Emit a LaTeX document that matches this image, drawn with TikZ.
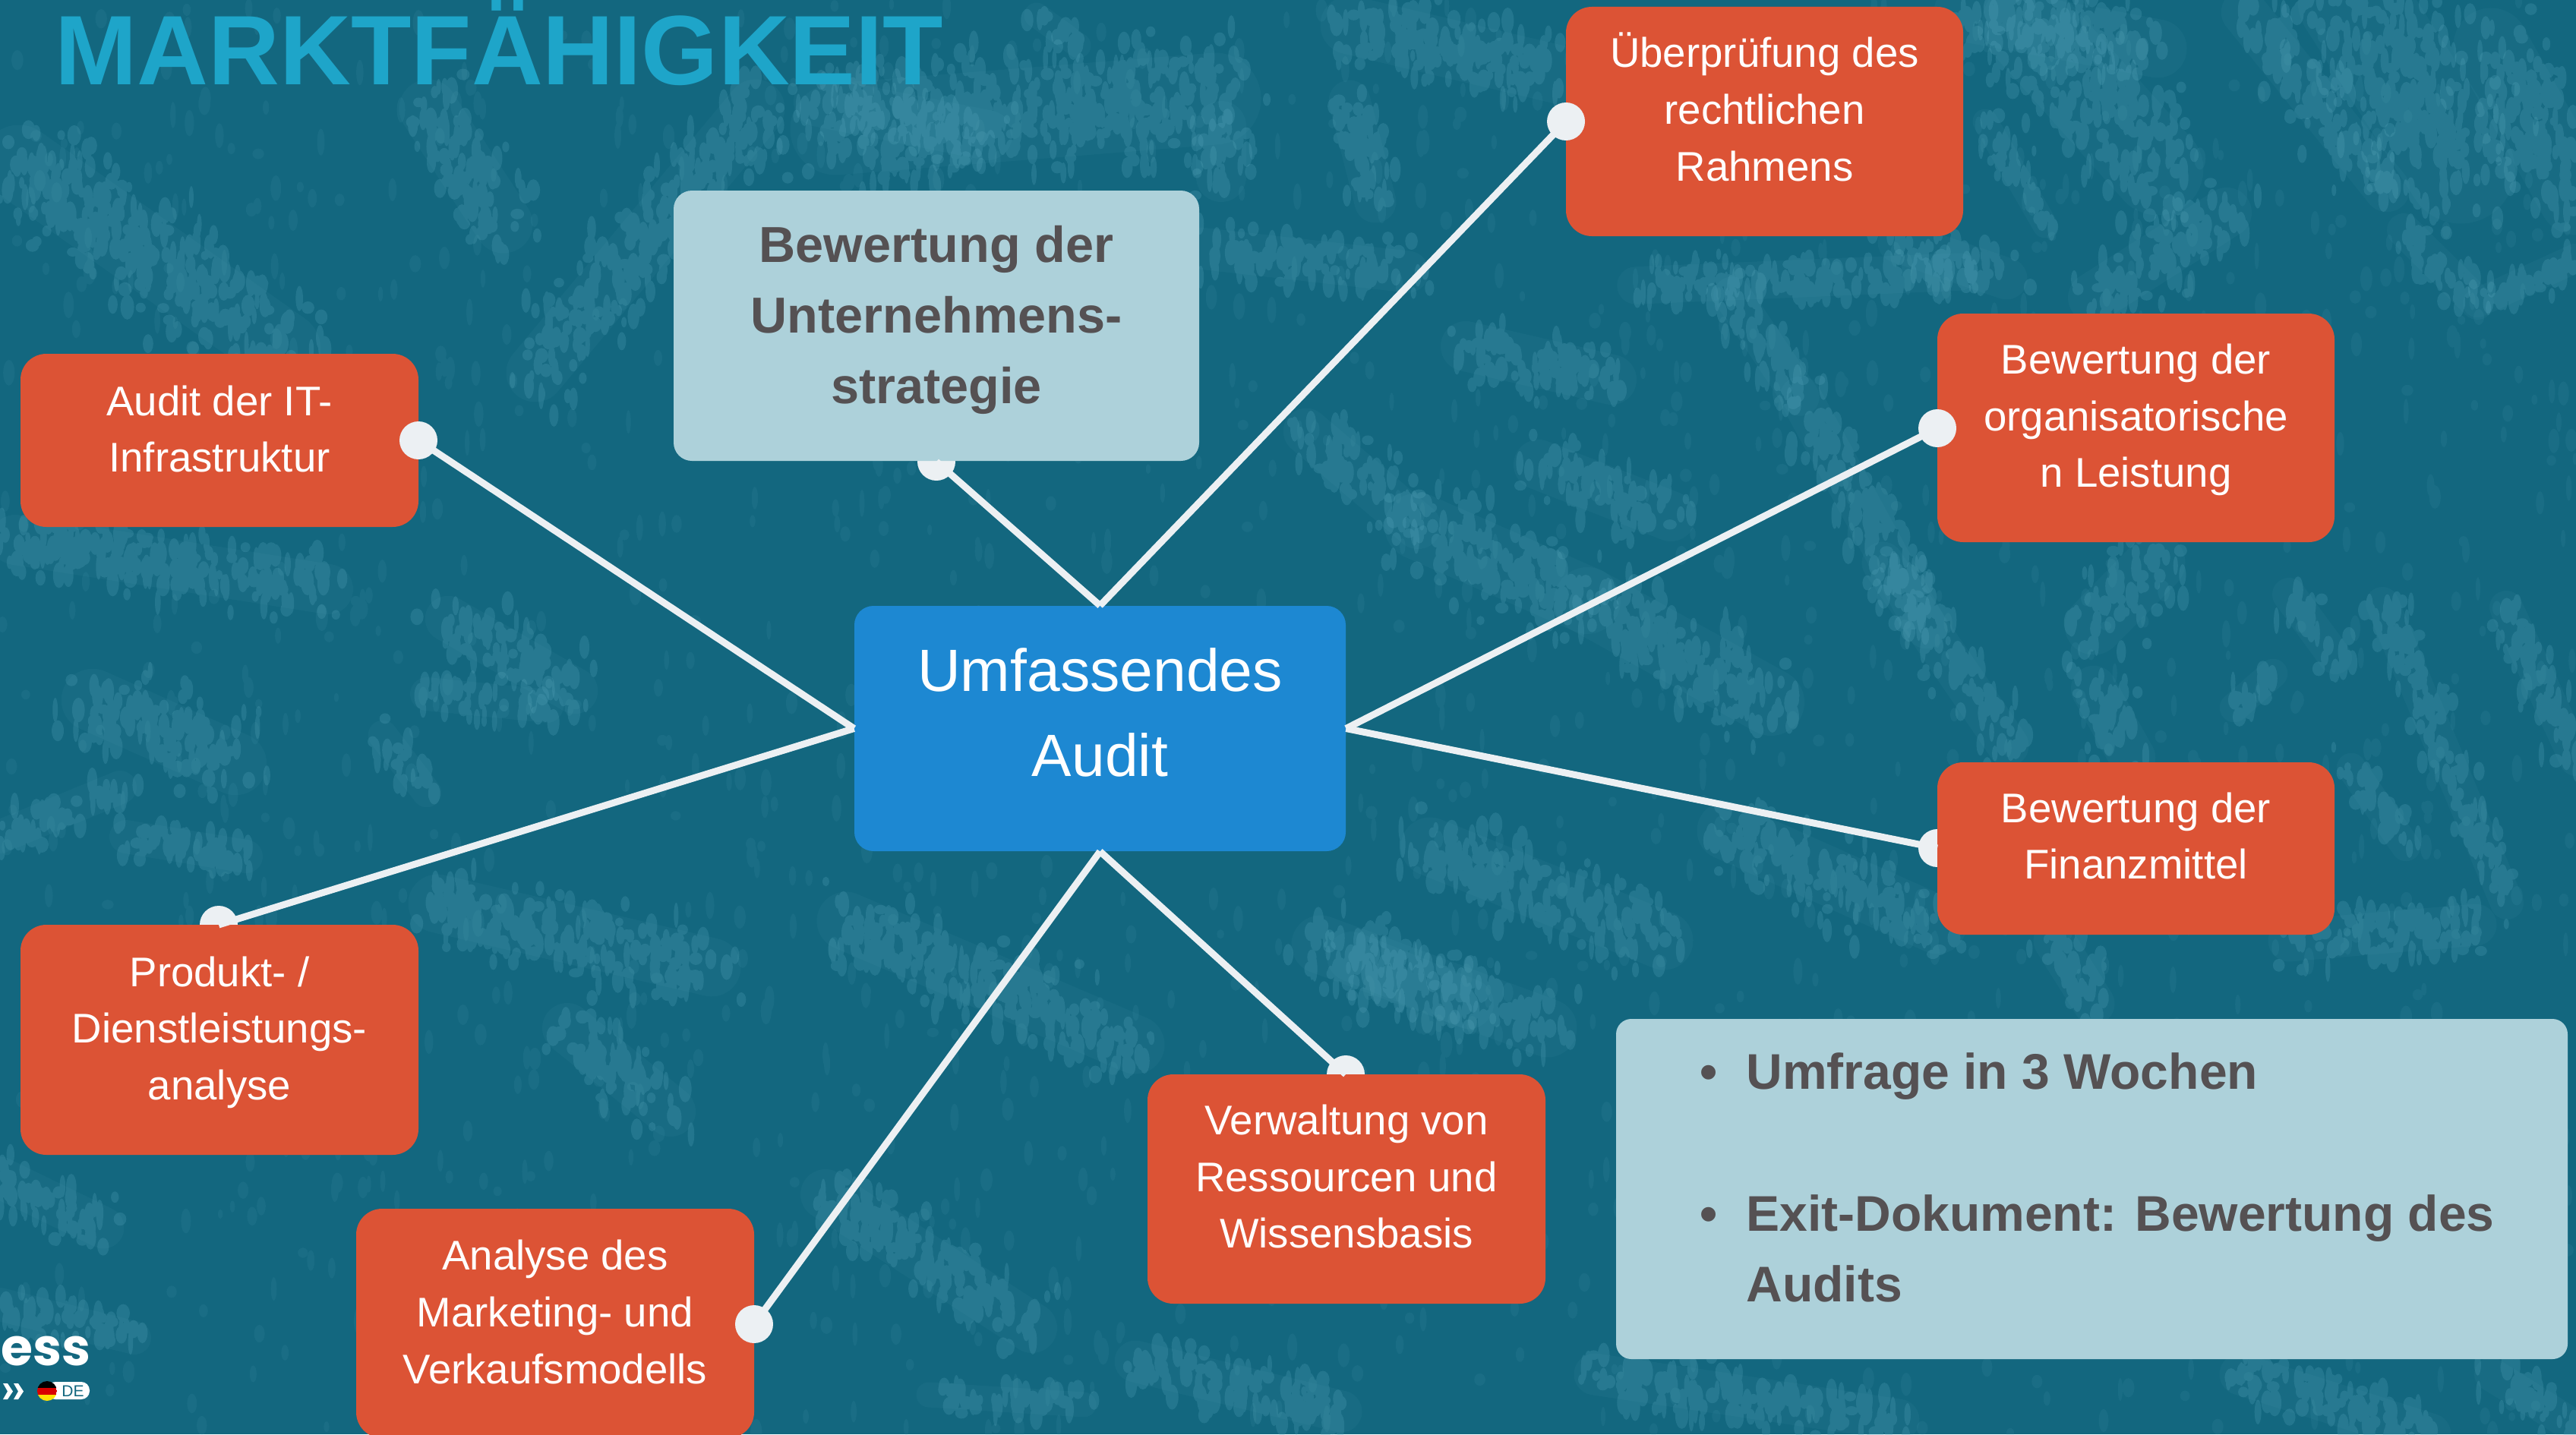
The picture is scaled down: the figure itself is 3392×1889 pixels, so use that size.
\documentclass[tikz,border=0pt]{standalone}
\usepackage{fontspec}
\setmainfont{Liberation Sans}
\newfontfamily\logofont{Poppins}
\definecolor{bgteal}{HTML}{13677F}
\definecolor{streakc}{HTML}{5AA8BE}
\definecolor{orangebox}{HTML}{DC5335}
\definecolor{lightbox}{HTML}{ADD1DA}
\definecolor{bluebox}{HTML}{1D88D2}
\definecolor{graytext}{HTML}{555153}
\definecolor{titleblue}{HTML}{1EA5C9}
\definecolor{linkc}{HTML}{ECF0F3}
\tikzset{
  x=0.5pt,y=-0.5pt,
  boxo/.style={fill=orangebox,rounded corners=17pt,inner sep=0pt},
  boxl/.style={fill=lightbox,rounded corners=12pt,inner sep=0pt},
  boxb/.style={fill=bluebox,rounded corners=12.5pt,inner sep=0pt},
  dotn/.style={circle,fill=linkc,minimum size=25pt,inner sep=0pt},
  link/.style={draw=linkc,line width=4.5pt},
  txto/.style={text=white,align=center,font=\fontsize{27.3}{37.3}\selectfont,inner sep=0pt},
  txtl/.style={text=graytext,align=center,font=\fontsize{33.3}{46.5}\bfseries\selectfont,inner sep=0pt},
  txtb/.style={text=white,align=center,font=\fontsize{39.3}{56}\selectfont,inner sep=0pt},
  txtn/.style={text=graytext,anchor=base west,font=\fontsize{33}{46}\bfseries\selectfont,inner sep=0pt},
}
% brush stroke: a soft band with many small upright specks scattered along it
\newcommand\streak[5]{%
  \pgfmathtruncatemacro\nspeck{max(14,veclen(#3-#1,#4-#2)/100*#5*0.8)}%
  \pgfmathsetmacro\bandw{#5*0.55}%
  \draw[streakc,opacity=.07,line cap=round,line width=\bandw pt] (#1,#2) -- (#3,#4);
  \fill[streakc,fill opacity=.24] foreach \i [evaluate=\i as \t using rnd] in {1,...,\nspeck}
    {({#1+(#3-#1)*\t+#5*(rnd+rnd-1)*.9},{#2+(#4-#2)*\t+#5*(rnd+rnd-1)*.9}) ellipse ({3+rnd*6} and {6+rnd*12})};}
\begin{document}
\begin{tikzpicture}
\useasboundingbox (0,0) rectangle (3392,1889);
\fill[bgteal] (0,0) rectangle (3392,1889);
\pgfmathsetseed{4711}
% brush texture
\fill[streakc,fill opacity=.10] foreach \i in {1,...,1600} {({rnd*3392},{rnd*1889}) ellipse ({3+rnd*5} and {6+rnd*12})};
\streak{25}{214}{373}{460}{90}
\streak{705}{491}{995}{143}{70}
\streak{564}{143}{663}{295}{70}
\streak{1078}{134}{1300}{178}{60}
\streak{1101}{170}{1600}{130}{110}
\streak{1365}{20}{1420}{60}{30}
\streak{1580}{327}{1854}{358}{50}
\streak{1608}{166}{1608}{233}{60}
\streak{1777}{33}{2060}{100}{70}
\streak{1777}{133}{1811}{266}{50}
\streak{2154}{376}{2580}{358}{45}
\streak{2281}{389}{2371}{523}{45}
\streak{2371}{523}{2537}{827}{50}
\streak{1867}{693}{2090}{791}{80}
\streak{2090}{791}{2332}{925}{80}
\streak{1720}{568}{1867}{693}{55}
\streak{1930}{456}{2122}{500}{60}
\streak{2026}{612}{2200}{680}{60}
\streak{2955}{16}{3143}{249}{55}
\streak{3097}{0}{3240}{223}{130}
\streak{2756}{392}{2932}{280}{60}
\streak{3165}{303}{3262}{399}{40}
\streak{3262}{399}{3392}{340}{35}
\streak{2585}{16}{2841}{64}{70}
\streak{2614}{160}{2693}{297}{30}
\streak{2500}{319}{2642}{367}{50}
\streak{2670}{32}{2841}{223}{110}
\streak{3280}{60}{3392}{260}{90}
\streak{20}{711}{432}{776}{60}
\streak{122}{922}{310}{1006}{75}
\streak{590}{815}{757}{910}{55}
\streak{562}{914}{720}{930}{40}
\streak{504}{968}{562}{1044}{35}
\streak{0}{1102}{158}{1037}{40}
\streak{166}{1102}{324}{1128}{40}
\streak{576}{1190}{937}{1274}{70}
\streak{2479}{741}{2644}{982}{50}
\streak{2839}{741}{2757}{824}{70}
\streak{2757}{907}{2808}{998}{55}
\streak{3014}{783}{3075}{866}{40}
\streak{3137}{795}{3301}{1189}{40}
\streak{2993}{887}{2942}{932}{35}
\streak{2273}{1094}{2551}{1218}{70}
\streak{1883}{1115}{2191}{1239}{70}
\streak{1780}{1260}{1934}{1322}{60}
\streak{3096}{1011}{3168}{1115}{35}
\streak{3014}{1239}{3260}{1218}{50}
\streak{2705}{1239}{2757}{1322}{50}
\streak{3300}{800}{3392}{1000}{40}
\streak{1114}{1213}{1495}{1376}{70}
\streak{747}{1354}{883}{1464}{60}
\streak{1739}{1244}{2038}{1354}{70}
\streak{0}{1551}{136}{1617}{50}
\streak{0}{1718}{177}{1762}{40}
\streak{1087}{1573}{1359}{1749}{60}
\streak{1495}{1793}{1766}{1859}{50}
\streak{1223}{1837}{1427}{1850}{30}
\streak{2100}{1810}{2500}{1870}{50}
\streak{2950}{1810}{3200}{1889}{50}
\streak{3280}{1810}{3392}{1880}{40}
% dots partly hidden by their boxes
\node[dotn] (dtop) at (1233,608) {};
\node[dotn] (dfin) at (2551,1117) {};
\node[dotn] (dpro) at (288,1218) {};
\node[dotn] (dver) at (1772,1415) {};
% boxes
\node[boxb,minimum width=323.5pt,minimum height=161.5pt] (main) at (1448.5,959.5) {};
\node[boxl,minimum width=346pt,minimum height=178pt] (strat) at (1233,429) {};
\node[boxo,minimum width=262pt,minimum height=114pt] (it) at (289,580) {};
\node[boxo,minimum width=261.5pt,minimum height=151pt] (recht) at (2323.5,160) {};
\node[boxo,minimum width=261.5pt,minimum height=150.5pt] (org) at (2812.5,563.5) {};
\node[boxo,minimum width=261.5pt,minimum height=113.5pt] (fin) at (2812.5,1117.5) {};
\node[boxo,minimum width=262pt,minimum height=151.5pt] (pro) at (289,1369.5) {};
\node[boxo,minimum width=262pt,minimum height=151pt] (mark) at (731,1743) {};
\node[boxo,minimum width=262pt,minimum height=151pt] (ver) at (1773,1566) {};
\node[boxl,rounded corners=10pt,minimum width=626.5pt,minimum height=224pt] (note) at (2754.5,1566) {};
% dots on top of their boxes
\node[dotn] (dit) at (551,580) {};
\node[dotn] (drec) at (2062,160) {};
\node[dotn] (dorg) at (2551,564) {};
\node[dotn] (dmar) at (993,1744) {};
% connectors
\draw[link] (dit.center) -- (main.west);
\draw[link] (dpro.center) -- (main.west);
\draw[link] (dtop.center) -- (main.north);
\draw[link] (drec.center) -- (main.north);
\draw[link] (dorg.center) -- (main.east);
\draw[link] (dfin.center) -- (main.east);
\draw[link] (dmar.center) -- (main.south);
\draw[link] (dver.center) -- (main.south);
% texts
\node[txtb] (tmain) at (1448.5,938) {Umfassendes\\Audit};
\node[txtl] (tstrat) at (1233,421.5) {Bewertung der\\Unternehmens-\\strategie};
\node[txto] (tit) at (289,565) {Audit der IT-\\Infrastruktur};
\node[txto] (trecht) at (2323.5,141) {Überprüfung des\\rechtlichen\\Rahmens};
\node[txto] (torg) at (2812.5,553) {Bewertung der\\organisatorische\\n Leistung};
\node[txto] (tfin) at (2812.5,1101) {Bewertung der\\Finanzmittel};
\node[txto] (tpro) at (289,1359.5) {Produkt- /\\Dienstleistungs-\\analyse};
\node[txto] (tmark) at (731,1728) {Analyse des\\Marketing- und\\Verkaufsmodells};
\node[txto] (tver) at (1773,1549.5) {Verwaltung von\\Ressourcen und\\Wissensbasis};
\node[txtn] (b1) at (2238,1434) {•};
\node[txtn] (n1) at (2299,1434) {Umfrage in 3 Wochen};
\node[txtn] (b2) at (2238,1621) {•};
\node[txtn] (n2) at (2299,1621) {Exit-Dokument: Bewertung des};
\node[txtn] (n3) at (2299,1714) {Audits};
\node[text=titleblue,anchor=base west,inner sep=0pt,font=\fontsize{65}{65}\bfseries\selectfont] (title) at (72,112) {MARKTFÄHIGKEIT};
% logo fragment
\node[text=white,anchor=base east,inner sep=0pt,font=\fontsize{34}{34}\logofont\bfseries\selectfont] (logo) at (120,1798) {ness};
\fill[white] (4,1822) -- (10,1822) -- (17,1832.5) -- (10,1843) -- (4,1843) -- (10,1832.5) -- cycle;
\fill[white] (18,1822) -- (24,1822) -- (31,1832.5) -- (24,1843) -- (18,1843) -- (24,1832.5) -- cycle;
\fill[white,rounded corners=5.5pt] (62,1820) rectangle (118,1843);
\node[text=bgteal,anchor=base,inner sep=0pt,font=\fontsize{10.5}{10.5}\selectfont] (de) at (96,1839) {DE};
\begin{scope}
\clip (62,1832) circle (13);
\fill[black] (49,1819) rectangle (75,1828);
\fill[red!85!black] (49,1828) rectangle (75,1837);
\fill[yellow!85!orange] (49,1837) rectangle (75,1845);
\end{scope}
\end{tikzpicture}
\end{document}
